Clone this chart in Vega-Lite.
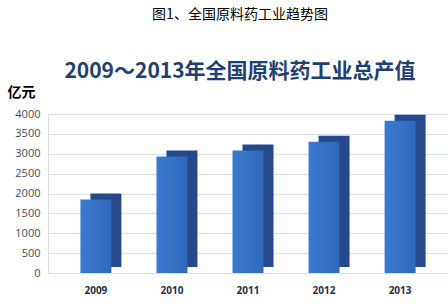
{
  "$schema": "https://vega.github.io/schema/vega-lite/v6.json",
  "width": 400,
  "height": 159,
  "autosize": {"type": "none"},
  "padding": {"left": 48, "top": 114, "right": 0, "bottom": 31},
  "background": "white",
  "title": {
    "text": "图1、全国原料药工业趋势图",
    "subtitle": "2009～2013年全国原料药工业总产值",
    "font": "Noto Sans CJK SC",
    "fontSize": 14,
    "fontWeight": "normal",
    "color": "#000000",
    "subtitleFont": "Noto Sans CJK SC",
    "subtitleFontSize": 21,
    "subtitleFontWeight": "bold",
    "subtitleColor": "#1F4170",
    "subtitlePadding": 39,
    "anchor": "middle",
    "offset": 3,
    "dx": -8
  },
  "data": {
    "values": [
      {"year": "2009", "value": 1850},
      {"year": "2010", "value": 2930},
      {"year": "2011", "value": 3080},
      {"year": "2012", "value": 3300},
      {"year": "2013", "value": 3830}
    ]
  },
  "encoding": {
    "x": {
      "field": "year",
      "type": "ordinal",
      "scale": {"paddingInner": 0, "paddingOuter": 0.13},
      "axis": {
        "title": null,
        "labelAngle": 0,
        "labelFont": "Open Sans",
        "labelFontSize": 10,
        "labelFontWeight": "bold",
        "labelColor": "#1F2F4A",
        "labelPadding": 12,
        "domain": false,
        "ticks": false
      }
    },
    "y": {
      "field": "value",
      "type": "quantitative",
      "scale": {"domain": [0, 4000]},
      "axis": {
        "values": [0, 500, 1000, 1500, 2000, 2500, 3000, 3500, 4000],
        "format": "d",
        "title": "亿元",
        "titleAngle": 0,
        "titleX": -41,
        "titleY": -22,
        "titleAlign": "left",
        "titleBaseline": "middle",
        "titleFont": "Noto Sans CJK SC",
        "titleFontSize": 14,
        "titleFontWeight": "bold",
        "titleColor": "#000000",
        "labelFont": "Open Sans",
        "labelFontSize": 11,
        "labelColor": "#3F4B5B",
        "labelPadding": 8,
        "domain": false,
        "ticks": false,
        "gridColor": "#D6E0EA",
        "gridWidth": 1
      }
    }
  },
  "layer": [
    {
      "mark": {"type": "bar", "width": 31, "xOffset": 10, "yOffset": -6, "color": "#25498A"}
    },
    {
      "mark": {
        "type": "bar",
        "width": 31,
        "color": {
          "gradient": "linear",
          "x1": 0, "y1": 0, "x2": 1, "y2": 0,
          "stops": [
            {"offset": 0, "color": "#3C7BD0"},
            {"offset": 1, "color": "#3068BA"}
          ]
        }
      }
    }
  ]
}
